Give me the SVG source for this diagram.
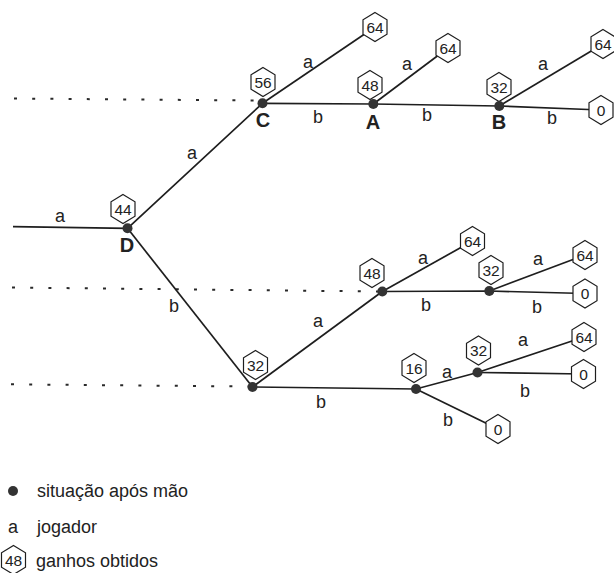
<svg xmlns="http://www.w3.org/2000/svg" width="614" height="573" viewBox="0 0 614 573">
<defs>
<style>
.ln{stroke:#1e1e1e;stroke-width:1.7;fill:none}
.dt{stroke:#2a2a2a;stroke-width:2;stroke-dasharray:3 15.2;fill:none}
.hx{stroke:#1e1e1e;stroke-width:1.2;fill:#fff}
.hv{stroke:#1e1e1e;stroke-width:1.2;fill:none}
.dot{fill:#333}
.num{font-family:"Liberation Sans",Arial,sans-serif;font-size:15.5px;fill:#222;text-anchor:middle}
.lb{font-family:"Liberation Sans",Arial,sans-serif;font-size:18px;fill:#222;text-anchor:middle}
.bl{font-family:"Liberation Sans",Arial,sans-serif;font-size:20px;font-weight:bold;fill:#222;text-anchor:middle}
.lg{font-family:"Liberation Sans",Arial,sans-serif;font-size:18px;fill:#222}
</style>
<polygon id="hex" points="0,-14.5 12,-7.2 12,7.2 0,14.5 -12,7.2 -12,-7.2"/>
</defs>
<rect width="614" height="573" fill="#fff"/>

<g id="connectors">
<line class="dt" x1="14" y1="98.5" x2="254" y2="100.5"/>
<line class="dt" x1="12" y1="287.5" x2="378" y2="291.5"/>
<line class="dt" x1="11" y1="384.3" x2="250" y2="386.5"/>
<polyline class="ln" points="13,226.7 127.5,228.3 262.5,103.3"/>
<line class="ln" x1="127.5" y1="228.3" x2="252.5" y2="387"/>
<line class="ln" x1="262.5" y1="103.3" x2="375" y2="27"/>
<polyline class="ln" points="262.5,103.3 373.3,104 499.3,106 601,110"/>
<line class="ln" x1="373.3" y1="104" x2="448" y2="48"/>
<line class="ln" x1="499.3" y1="106" x2="603" y2="44"/>
<line class="ln" x1="252.5" y1="387" x2="382.3" y2="291.5"/>
<line class="ln" x1="382.3" y1="291.5" x2="472.5" y2="241"/>
<polyline class="ln" points="382.3,291.5 489.3,291 585,293.5"/>
<line class="ln" x1="489.3" y1="291" x2="585" y2="255"/>
<polyline class="ln" points="252.5,387 416,389 477.5,372.5 584,337"/>
<line class="ln" x1="477.5" y1="372.5" x2="583.5" y2="374"/>
<line class="ln" x1="416" y1="389" x2="498" y2="429"/>
<text class="lb" x="60" y="222">a</text>
<text class="lb" x="192" y="159">a</text>
<text class="lb" x="174" y="312">b</text>
<text class="lb" x="308" y="68">a</text>
<text class="lb" x="318" y="123">b</text>
<text class="lb" x="407" y="70">a</text>
<text class="lb" x="427" y="121">b</text>
<text class="lb" x="543" y="70">a</text>
<text class="lb" x="552" y="124">b</text>
<text class="lb" x="423" y="264">a</text>
<text class="lb" x="538" y="265">a</text>
<text class="lb" x="426" y="311">b</text>
<text class="lb" x="537" y="313">b</text>
<text class="lb" x="318" y="327">a</text>
<text class="lb" x="321" y="408">b</text>
<text class="lb" x="447" y="378">a</text>
<text class="lb" x="523" y="346">a</text>
<text class="lb" x="525" y="397">b</text>
<text class="lb" x="448" y="426">b</text>
</g>

<g id="D"><use href="#hex" class="hv" x="123" y="209"/><text class="num" x="123" y="214.5">44</text><circle class="dot" cx="127.5" cy="228.3" r="5"/><text class="bl" x="127" y="252">D</text></g>
<g id="C"><use href="#hex" class="hv" x="263" y="82"/><text class="num" x="263" y="87.5">56</text><circle class="dot" cx="262.5" cy="103.3" r="5"/><text class="bl" x="263" y="127">C</text></g>
<g id="A"><use href="#hex" class="hv" x="370" y="85"/><text class="num" x="370" y="90.5">48</text><circle class="dot" cx="373.3" cy="104" r="5"/><text class="bl" x="373" y="129">A</text></g>
<g id="B"><use href="#hex" class="hv" x="499" y="87"/><text class="num" x="499" y="92.5">32</text><circle class="dot" cx="499.3" cy="106" r="5"/><text class="bl" x="499" y="129">B</text></g>
<g id="n48"><use href="#hex" class="hv" x="372" y="273"/><text class="num" x="372" y="278.5">48</text><circle class="dot" cx="382.3" cy="291.5" r="5"/></g>
<g id="n32m"><use href="#hex" class="hv" x="491" y="270"/><text class="num" x="491" y="275.5">32</text><circle class="dot" cx="489.3" cy="291" r="5"/></g>
<g id="n32l"><use href="#hex" class="hv" x="255.5" y="365"/><text class="num" x="255.5" y="370.5">32</text><circle class="dot" cx="252.5" cy="387" r="5"/></g>
<g id="n16"><use href="#hex" class="hv" x="414" y="368"/><text class="num" x="414" y="373.5">16</text><circle class="dot" cx="416" cy="389" r="5"/></g>
<g id="n32b"><use href="#hex" class="hv" x="478.5" y="350.5"/><text class="num" x="478.5" y="356">32</text><circle class="dot" cx="477.5" cy="372.5" r="5"/></g>

<g id="t1"><use href="#hex" class="hx" x="375" y="27"/><text class="num" x="375" y="32.5">64</text></g>
<g id="t2"><use href="#hex" class="hx" x="448" y="48"/><text class="num" x="448" y="53.5">64</text></g>
<g id="t3"><use href="#hex" class="hx" x="603" y="44"/><text class="num" x="603" y="49.5">64</text></g>
<g id="t4"><use href="#hex" class="hx" x="601" y="110"/><text class="num" x="601" y="115.5">0</text></g>
<g id="t5"><use href="#hex" class="hx" x="472.5" y="241"/><text class="num" x="472.5" y="246.5">64</text></g>
<g id="t6"><use href="#hex" class="hx" x="585" y="255"/><text class="num" x="585" y="260.5">64</text></g>
<g id="t7"><use href="#hex" class="hx" x="585" y="293.5"/><text class="num" x="585" y="299">0</text></g>
<g id="t8"><use href="#hex" class="hx" x="584" y="337"/><text class="num" x="584" y="342.5">64</text></g>
<g id="t9"><use href="#hex" class="hx" x="583.5" y="374"/><text class="num" x="583.5" y="379.5">0</text></g>
<g id="t10"><use href="#hex" class="hx" x="498" y="429"/><text class="num" x="498" y="434.5">0</text></g>

<g id="legend">
<circle class="dot" cx="13" cy="491" r="5"/>
<text class="lg" x="37" y="497">situação após mão</text>
<text class="lg" x="8" y="533">a</text>
<text class="lg" x="37" y="533">jogador</text>
<use href="#hex" class="hx" x="13.5" y="560"/>
<text class="num" x="13.5" y="565.5">48</text>
<text class="lg" x="36" y="567">ganhos obtidos</text>
</g>
</svg>
